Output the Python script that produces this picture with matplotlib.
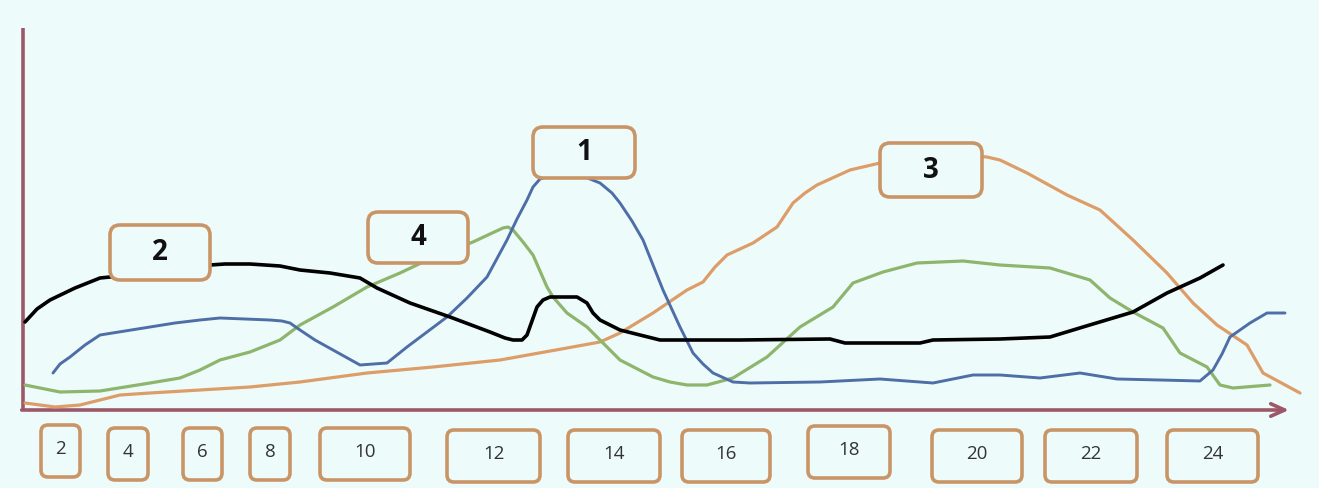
import matplotlib
matplotlib.use("Agg")
import matplotlib.pyplot as plt
from matplotlib.patches import FancyBboxPatch

# ---------------- data (x position along the axis, height above the axis) ----------------
blue_x = [53, 60, 70, 85, 100, 125, 150, 175, 200, 220, 245, 270, 282, 290, 300, 315, 333, 360,
          387, 407, 427, 447, 467, 487, 507, 517, 527, 533, 540, 550, 565, 585, 600, 612, 620,
          632, 643, 663, 680, 693, 703, 713, 733, 750, 820, 880, 933, 973,
          1000, 1040, 1080, 1117, 1160, 1200, 1213, 1222, 1230, 1250, 1267, 1285]
blue_y = [36, 45, 52, 64, 74, 78, 82, 86, 89, 91, 90, 89, 88, 86, 79, 69, 59, 44,
          46, 62, 77, 92, 111, 132, 169, 190, 209, 222, 230, 233, 234, 232, 226, 216, 206,
          188, 169, 119, 82, 56, 45, 36, 27, 26, 27, 30, 26, 34,
          34, 31, 36, 30, 29, 28, 39, 55, 72, 86, 96, 96]

black_x = [25, 37, 50, 75, 100, 120, 150, 180, 210, 225, 250, 280, 300, 330, 360, 377, 410, 450,
           490, 505, 513, 522, 527, 532, 537, 543, 550, 577, 587, 593, 600, 620, 660, 740, 830,
           845, 920, 933, 1000, 1050, 1083, 1133, 1167, 1200, 1223]
black_y = [87, 100, 109, 121, 131, 133, 137, 141, 144, 145, 145, 143, 139, 136, 131, 121, 106, 92,
           77, 71, 69, 69, 74, 88, 102, 109, 112, 112, 106, 96, 89, 79, 69, 69, 70,
           66, 66, 69, 70, 72, 82, 97, 116, 131, 144]

orange_x = [25, 55, 80, 100, 120, 150, 200, 250, 300, 367, 433, 500, 567, 600, 620, 653, 687,
            703, 715, 727, 753, 777, 793, 805, 817, 850, 880, 930, 975, 987, 1000, 1027, 1067,
            1100, 1133, 1167, 1193, 1217, 1247, 1263, 1300]
orange_y = [6, 2, 4, 9, 14, 16, 19, 22, 27, 36, 42, 49, 61, 67, 76, 96, 119,
            127, 142, 154, 166, 182, 206, 216, 224, 239, 246, 251, 253, 252, 249, 236, 214,
            199, 169, 136, 106, 84, 64, 36, 16]

green_x = [25, 60, 100, 150, 180, 200, 220, 250, 280, 300, 333, 367, 400, 440, 473, 490, 503,
           508, 513, 523, 533, 547, 553, 567, 587, 620, 653, 670, 687, 707, 733, 767, 800, 833,
           853, 883, 917, 963, 1000, 1050, 1090, 1110, 1133, 1163, 1180, 1207, 1220, 1233, 1270]
green_y = [24, 17, 18, 26, 31, 39, 49, 57, 69, 84, 102, 122, 136, 155, 167, 175, 181,
           182, 179, 167, 154, 122, 112, 96, 82, 49, 32, 27, 24, 24, 31, 52, 82, 102,
           126, 137, 146, 148, 144, 141, 129, 111, 97, 81, 56, 42, 24, 21, 24]

series_labels = ["1", "2", "3", "4"]
tick_labels = ["2", "4", "6", "8", "10", "12", "14", "16", "18", "20", "22", "24"]

# ---------------- layout / style ----------------
label_boxes = {  # label -> (x0, y0, width, height) in the axes' units
    "1": (533, 231, 102, 51),
    "2": (110, 129, 100, 55),
    "3": (880, 212, 102, 54),
    "4": (368, 146, 100, 51),
}
tick_boxes = [(41, 39), (108, 40), (183, 39), (250, 40), (320, 90), (447, 93),
              (568, 92), (682, 88), (808, 82), (932, 90), (1045, 92), (1167, 91)]
tick_tops = [-16, -19, -19, -19, -19, -21, -21, -21, -17, -21, -21, -21]
tick_height = 52

bg = "#eefbfb"
box_edge = "#c99566"
axis_col = "#9c5869"
c_blue = "#4d6ea6"
c_black = "#000000"
c_orange = "#dc9d68"
c_green = "#8db56c"

fig = plt.figure(figsize=(13.19, 4.88), dpi=100, facecolor=bg)
ax = fig.add_axes([0, 0, 1, 1])
ax.set_facecolor(bg)
ax.set_xlim(0, 1319)
ax.set_ylim(-79, 409)
ax.axis("off")

# axes
ax.plot([23, 23], [-1, 381], color=axis_col, lw=2.6, solid_capstyle="butt", zorder=2)
ax.annotate("", xy=(1289, -1), xytext=(21.7, -1),
            arrowprops=dict(arrowstyle="->,head_length=1.0,head_width=0.45",
                            color=axis_col, lw=2.6, shrinkA=0, shrinkB=0), zorder=2)

# curves
kw = dict(solid_joinstyle="round", solid_capstyle="round", zorder=3)
ax.plot(orange_x, orange_y, color=c_orange, lw=2.3, **kw)
ax.plot(green_x, green_y, color=c_green, lw=2.3, **kw)
ax.plot(blue_x, blue_y, color=c_blue, lw=2.1, **kw)
ax.plot(black_x, black_y, color=c_black, lw=2.6, **kw)

# series labels
for lab in series_labels:
    x0, y0, w, h = label_boxes[lab]
    ax.add_patch(FancyBboxPatch((x0 + 8, y0 + 8), w - 16, h - 16,
                                boxstyle="round,pad=8,rounding_size=10",
                                facecolor=bg, edgecolor=box_edge, lw=2.6, zorder=5))
    ax.text(x0 + w / 2, y0 + h / 2, lab, ha="center", va="center", fontsize=20,
            fontweight="bold", family="Open Sans", color="#111111", zorder=6)

# tick label boxes
for lab, (x0, w), top in zip(tick_labels, tick_boxes, tick_tops):
    y0 = top - tick_height
    ax.add_patch(FancyBboxPatch((x0 + 6, y0 + 6), w - 12, tick_height - 12,
                                boxstyle="round,pad=6,rounding_size=7",
                                facecolor=bg, edgecolor=box_edge, lw=2.6, zorder=5))
    ax.text(x0 + w / 2, y0 + tick_height / 2 + 2, lab, ha="center", va="center",
            fontsize=13.5, family="Open Sans", color="#333333", zorder=6)

fig.savefig("out.png", dpi=100, facecolor=bg)
